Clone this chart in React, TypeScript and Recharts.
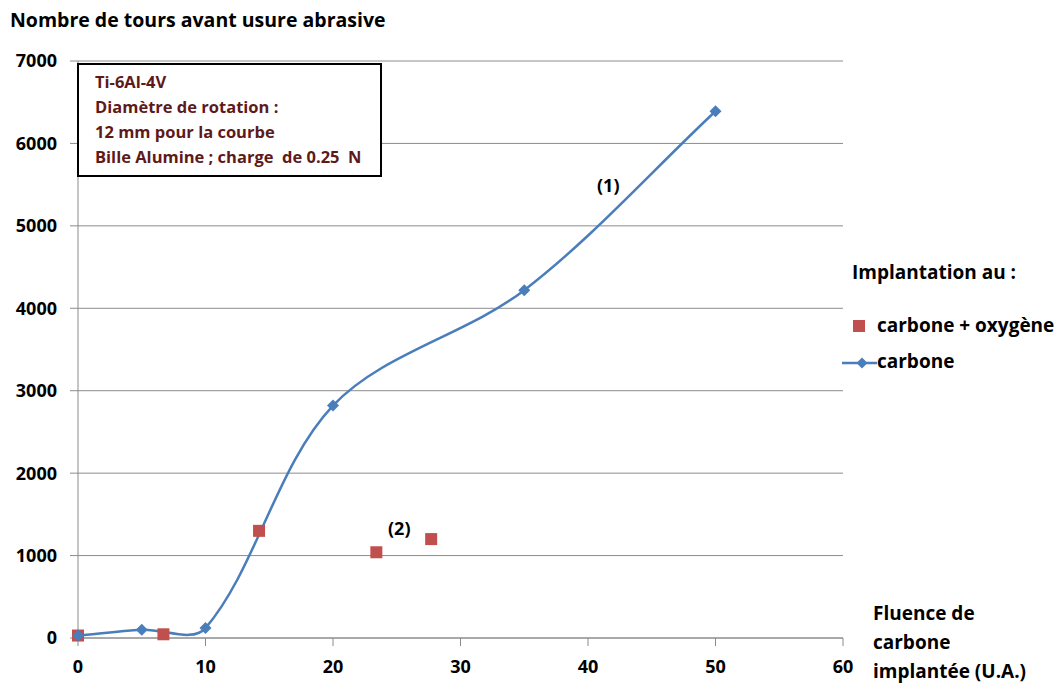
import React from "react";
import {
  CartesianGrid,
  ComposedChart,
  Line,
  Scatter,
  XAxis,
  YAxis,
} from "recharts";

// fluence (U.A.) / nombre de tours
const CARBONE_X = [0, 5, 10, 20, 35, 50];
const CARBONE_Y = [30, 100, 120, 2820, 4220, 6390];
const CO_X = [0, 6.7, 14.2, 23.4, 27.7];
const CO_Y = [30, 45, 1300, 1040, 1200];

const X_TICKS = [0, 10, 20, 30, 40, 50, 60];
const Y_TICKS = [0, 1000, 2000, 3000, 4000, 5000, 6000, 7000];

const BOX_LINES = [
  "Ti-6Al-4V",
  "Diamètre de rotation :",
  "12 mm pour la courbe",
  "Bille Alumine ; charge  de 0.25  N",
];

const BLUE = "#4A7EBB";
const RED = "#C0504D";
const GRID = "#8C8C8C";
const FONT = "'Open Sans', Lato, sans-serif";

const carbone = CARBONE_X.map((x, i) => ({ x, y: CARBONE_Y[i] }));
const carboneOxygene = CO_X.map((x, i) => ({ x, y: CO_Y[i] }));

// smoothed line like Excel's: tangents weighted by segment length, pixel space
function excelSmooth(context: any) {
  let pts: [number, number][] = [];
  const dist = (a: [number, number], b: [number, number]) =>
    Math.hypot(b[0] - a[0], b[1] - a[1]);
  return {
    areaStart() {},
    areaEnd() {},
    lineStart() {
      pts = [];
    },
    point(x: number, y: number) {
      pts.push([+x, +y]);
    },
    lineEnd() {
      const n = pts.length;
      if (!n) return;
      context.moveTo(pts[0][0], pts[0][1]);
      for (let i = 0; i < n - 1; i++) {
        const p0 = pts[Math.max(i - 1, 0)];
        const p1 = pts[i];
        const p2 = pts[i + 1];
        const p3 = pts[Math.min(i + 2, n - 1)];
        const d01 = dist(p0, p1);
        const d12 = dist(p1, p2);
        const d23 = dist(p2, p3);
        const f1 = d12 / (d01 + d12) / 3;
        const f2 = d12 / (d12 + d23) / 3;
        context.bezierCurveTo(
          p1[0] + (p2[0] - p0[0]) * f1,
          p1[1] + (p2[1] - p0[1]) * f1,
          p2[0] - (p3[0] - p1[0]) * f2,
          p2[1] - (p3[1] - p1[1]) * f2,
          p2[0],
          p2[1]
        );
      }
    },
  };
}

const Diamond = (props: any) => {
  const { cx, cy, index } = props;
  if (cx == null || cy == null) return null;
  return (
    <path
      key={`d-${index}`}
      d={`M${cx},${cy - 6}L${cx + 6},${cy}L${cx},${cy + 6}L${cx - 6},${cy}Z`}
      fill={BLUE}
    />
  );
};

const Square = (props: any) => {
  const { cx, cy } = props;
  return <rect x={cx - 6} y={cy - 6} width={12} height={12} fill={RED} />;
};

const text = (style: React.CSSProperties): React.CSSProperties => ({
  position: "absolute",
  fontFamily: FONT,
  fontWeight: 700,
  whiteSpace: "pre",
  color: "#000",
  lineHeight: 1,
  ...style,
});

const tickStyle = { fill: "#000", fontSize: 18, fontFamily: FONT, fontWeight: 700 };

export default function App() {
  return (
    <div
      style={{
        position: "absolute",
        left: 0,
        top: 0,
        width: 1062,
        height: 685,
        background: "#fff",
        overflow: "hidden",
      }}
    >
      <ComposedChart
        width={1062}
        height={685}
        margin={{ top: 61, right: 219, bottom: 0, left: 0 }}
      >
        <CartesianGrid vertical={false} stroke={GRID} />
        <XAxis
          type="number"
          dataKey="x"
          domain={[0, 60]}
          ticks={X_TICKS}
          interval={0}
          stroke={GRID}
          tickSize={8}
          tickMargin={14}
          tick={tickStyle}
          height={47}
        />
        <YAxis
          type="number"
          domain={[0, 7000]}
          ticks={Y_TICKS}
          interval={0}
          stroke={GRID}
          tickSize={8}
          tickMargin={13}
          tick={tickStyle}
          width={78}
        />
        <Scatter
          name="carbone + oxygène"
          data={carboneOxygene}
          dataKey="y"
          shape={Square}
          isAnimationActive={false}
        />
        <Line
          name="carbone"
          data={carbone}
          dataKey="y"
          type={excelSmooth as any}
          stroke={BLUE}
          strokeWidth={2.5}
          dot={Diamond}
          activeDot={false}
          isAnimationActive={false}
        />
      </ComposedChart>

      <div style={text({ left: 10, top: 10, fontSize: 19.5 })}>
        Nombre de tours avant usure abrasive
      </div>

      <div
        style={{
          position: "absolute",
          left: 77,
          top: 63,
          width: 301,
          height: 110,
          border: "2px solid #000",
          background: "#fff",
        }}
      >
        {BOX_LINES.map((l, i) => (
          <div
            key={l}
            style={text({
              left: 16,
              top: 9 + i * 25,
              fontSize: 16.5,
              color: "#5E1A1A",
            })}
          >
            {l}
          </div>
        ))}
      </div>

      <div style={text({ left: 597, top: 176, fontSize: 18 })}>(1)</div>
      <div style={text({ left: 388, top: 519, fontSize: 18 })}>(2)</div>

      <div style={text({ left: 852, top: 263, fontSize: 19 })}>
        Implantation au :
      </div>
      <div
        style={{
          position: "absolute",
          left: 853,
          top: 320,
          width: 12,
          height: 12,
          background: RED,
        }}
      />
      <div style={text({ left: 877, top: 316, fontSize: 19 })}>
        carbone + oxygène
      </div>
      <svg
        style={{ position: "absolute", left: 842, top: 356 }}
        width={36}
        height={14}
      >
        <line x1={0} y1={7} x2={35} y2={7} stroke={BLUE} strokeWidth={2.5} />
        <path d="M20,1.5L25.5,7L20,12.5L14.5,7Z" fill={BLUE} />
      </svg>
      <div style={text({ left: 877, top: 352, fontSize: 19 })}>carbone</div>

      {["Fluence de", "carbone", "implantée (U.A.)"].map((l, i) => (
        <div key={l} style={text({ left: 873, top: 604 + i * 29, fontSize: 19 })}>
          {l}
        </div>
      ))}
    </div>
  );
}
